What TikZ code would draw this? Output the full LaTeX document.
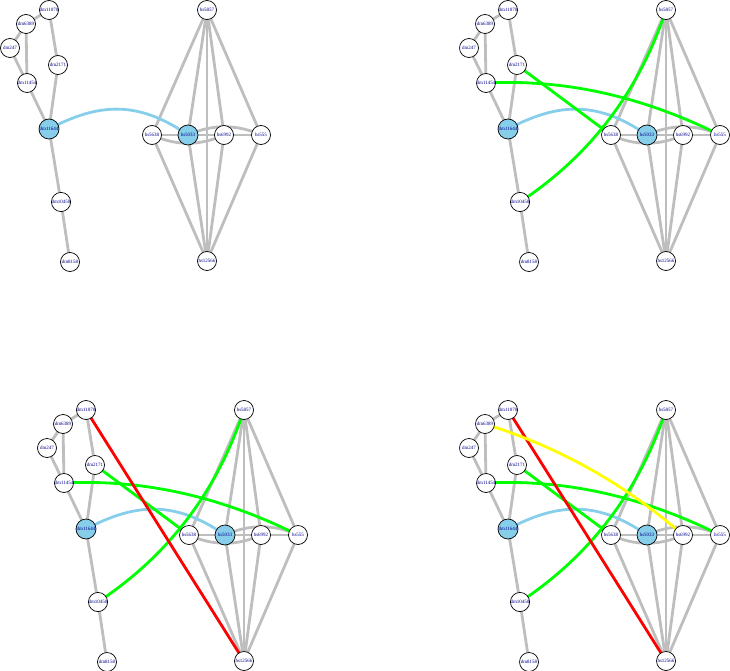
\documentclass[tikz,border=0pt]{standalone}
\usepackage{fontspec}
\setmainfont{Liberation Serif}
\usetikzlibrary{backgrounds}
\definecolor{edgegrey}{HTML}{BEBEBE}
\definecolor{skyb}{HTML}{87CEEB}
\definecolor{lblue}{HTML}{00008B}
\definecolor{gr}{HTML}{00FF00}
\definecolor{rd}{HTML}{FF0000}
\definecolor{yl}{HTML}{FFFF00}
\tikzset{
  vtx/.style={circle,draw=black,line width=0.7pt,fill=white,minimum size=19pt,inner sep=0pt,
    font=\fontsize{5}{5.5}\selectfont,text=lblue},
  hub/.style={vtx,fill=skyb,minimum size=20pt},
  gedge/.style={draw=edgegrey,line width=2.8pt},
  bedge/.style={draw=skyb,line width=2.8pt},
  gnedge/.style={draw=gr,line width=2.8pt},
  rdedge/.style={draw=rd,line width=2.8pt},
  yledge/.style={draw=yl,line width=2.8pt}
}
\newcommand\graphpanel[1]{%
  \node[vtx] (#1dm11070) at (49,10) {dm11070};
  \node[vtx] (#1dm6389) at (26,24) {dm6389};
  \node[vtx] (#1dm247) at (10,48) {dm247};
  \node[vtx] (#1dm2171) at (58,65) {dm2171};
  \node[vtx] (#1dm11454) at (27,83) {dm11454};
  \node[hub] (#1dm11644) at (49,129) {dm11644};
  \node[vtx] (#1dm10450) at (61,202) {dm10450};
  \node[vtx] (#1dm8158) at (70,262) {dm8158};
  \node[vtx] (#1hs5857) at (207,10) {hs5857};
  \node[vtx] (#1hs5638) at (152,135) {hs5638};
  \node[hub] (#1hs5033) at (188,135) {hs5033};
  \node[vtx] (#1hs6992) at (224,135) {hs6992};
  \node[vtx] (#1hs555) at (261,135) {hs555};
  \node[vtx] (#1hs12566) at (207,261) {hs12566};
  \begin{scope}[on background layer]
    \draw[gedge] (#1dm11070.center) -- (#1dm6389.center);
    \draw[gedge] (#1dm6389.center) -- (#1dm247.center);
    \draw[gedge] (#1dm6389.center) -- (#1dm11454.center);
    \draw[gedge] (#1dm247.center) -- (#1dm11454.center);
    \draw[gedge] (#1dm11070.center) -- (#1dm2171.center);
    \draw[gedge] (#1dm2171.center) -- (#1dm11644.center);
    \draw[gedge] (#1dm11454.center) -- (#1dm11644.center);
    \draw[gedge] (#1dm11644.center) -- (#1dm10450.center);
    \draw[gedge] (#1dm10450.center) -- (#1dm8158.center);
    \foreach \t in {hs5638,hs5033,hs6992,hs555,hs12566}
      \draw[gedge] (#1hs5857.center) -- (#1\t.center);
    \foreach \t in {hs5638,hs5033,hs6992,hs555}
      \draw[gedge] (#1hs12566.center) -- (#1\t.center);
    \draw[gedge] (#1hs5638.center) -- (#1hs5033.center);
    \draw[gedge] (#1hs5033.center) -- (#1hs6992.center);
    \draw[gedge] (#1hs6992.center) -- (#1hs555.center);
    \draw[gedge] (#1hs5638.center) .. controls +(24,11) and +(-24,11) .. (#1hs6992.center);
    \draw[gedge] (#1hs5033.center) .. controls +(24,-11) and +(-24,-11) .. (#1hs555.center);
    \draw[bedge] (#1dm11644.center) .. controls +(46,-24) and +(-53,-37) .. (#1hs5033.center);
  \end{scope}
}
\newcommand\greenedges[1]{%
  \begin{scope}[on background layer]
    \draw[gnedge] (#1dm2171.center) -- (#1hs5638.center);
    \draw[gnedge] (#1dm11454.center) .. controls +(78,-4) and +(-78,-39) .. (#1hs555.center);
    \draw[gnedge] (#1dm10450.center) .. controls +(71,-47) and +(-27,81) .. (#1hs5857.center);
  \end{scope}
}
\begin{document}
\begin{tikzpicture}[x=1pt,y=-1pt]
  \useasboundingbox (0,0) rectangle (730,671);
  % panel 1
  \begin{scope}
    \graphpanel{a}
  \end{scope}
  % panel 2
  \begin{scope}[shift={(459,0)}]
    \graphpanel{b}
    \greenedges{b}
  \end{scope}
  % panel 3
  \begin{scope}[shift={(37,400)}]
    \graphpanel{c}
    \greenedges{c}
    \begin{scope}[on background layer]
      \draw[rdedge] (cdm11070.center) -- (chs12566.center);
    \end{scope}
  \end{scope}
  % panel 4
  \begin{scope}[shift={(459,400)}]
    \graphpanel{d}
    \greenedges{d}
    \begin{scope}[on background layer]
      \draw[rdedge] (ddm11070.center) -- (dhs12566.center);
      \draw[yledge] (ddm6389.center) .. controls +(74,23) and +(-58,-51) .. (dhs6992.center);
    \end{scope}
  \end{scope}
\end{tikzpicture}
\end{document}
